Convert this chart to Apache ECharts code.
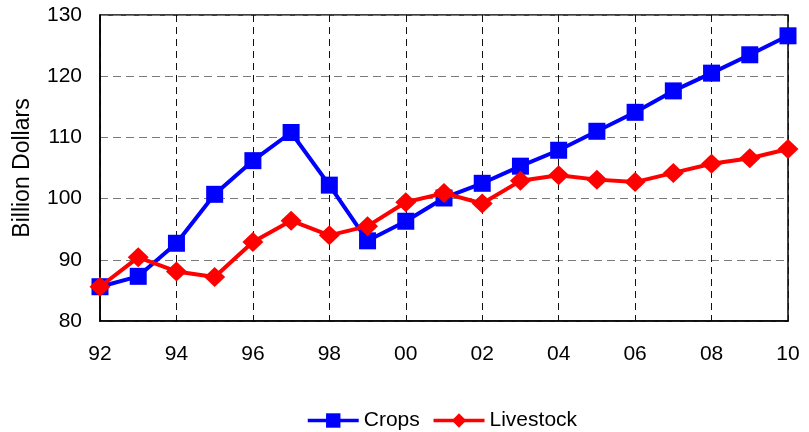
<!DOCTYPE html>
<html>
<head>
<meta charset="utf-8">
<script src="https://cdn.jsdelivr.net/npm/echarts@6/dist/echarts.min.js"></script>
<style>
  html, body { margin: 0; padding: 0; background: #fff; }
  #chart { width: 809px; height: 432px; }
</style>
</head>
<body>
<div id="chart"></div>
<script>
// Farm cash receipts, 1992–2010 (billion dollars)
const years = ['92','93','94','95','96','97','98','99','00','01','02','03','04','05','06','07','08','09','10'];
const crops = [85.6, 87.3, 92.7, 100.7, 106.2, 110.8, 102.2, 93.1, 96.3, 100.1, 102.5, 105.3, 107.9, 111.0, 114.1, 117.6, 120.5, 123.5, 126.6];
const livestock = [85.6, 90.4, 88.1, 87.2, 92.9, 96.4, 94.0, 95.5, 99.4, 100.9, 99.2, 102.9, 103.8, 103.1, 102.7, 104.2, 105.7, 106.6, 108.1];
const yTicks = { min: 80, max: 130, interval: 10 };

const font = 'Liberation Sans, Arial, sans-serif';
const chart = echarts.init(document.getElementById('chart'), null, { renderer: 'canvas' });

chart.setOption({
  animation: false,
  backgroundColor: '#fff',
  grid: {
    left: 100, right: 21, top: 15, bottom: 111,
    containLabel: false, outerBoundsMode: 'none',
    show: true, borderColor: '#000', borderWidth: 1.5, backgroundColor: 'transparent'
  },
  legend: {
    top: 405, left: 301,
    itemWidth: 51, itemHeight: 18, itemGap: 12,
    lineStyle: { width: 3.5 },
    textStyle: { fontFamily: font, fontSize: 21, color: '#000' },
    data: ['Crops', 'Livestock']
  },
  xAxis: {
    type: 'category',
    data: years,
    boundaryGap: false,
    axisLine: { lineStyle: { color: '#000', width: 1.5 } },
    axisTick: { show: false },
    axisLabel: { interval: 1, color: '#000', fontFamily: font, fontSize: 21, margin: 23 },
    splitLine: { show: true, interval: 1, lineStyle: { color: '#111', type: [7, 5], width: 1 } }
  },
  yAxis: {
    type: 'value',
    min: yTicks.min, max: yTicks.max, interval: yTicks.interval,
    name: 'Billion Dollars',
    nameLocation: 'middle',
    nameGap: 66,
    nameTextStyle: { fontFamily: font, fontSize: 23, color: '#000' },
    axisLine: { show: true, lineStyle: { color: '#000', width: 1.5 } },
    axisTick: { show: false },
    axisLabel: { color: '#000', fontFamily: font, fontSize: 21, margin: 18 },
    splitLine: { show: true, lineStyle: { color: '#7a7a7a', type: [8, 5], width: 1 } }
  },
  series: [
    {
      name: 'Crops', type: 'line', data: crops,
      symbol: 'rect', symbolSize: 17,
      lineStyle: { color: '#0000ff', width: 4 },
      itemStyle: { color: '#0000ff' },
      z: 2
    },
    {
      name: 'Livestock', type: 'line', data: livestock,
      symbol: 'diamond', symbolSize: [21, 20],
      lineStyle: { color: '#ff0000', width: 4 },
      itemStyle: { color: '#ff0000' },
      z: 3
    }
  ]
});
</script>
</body>
</html>
